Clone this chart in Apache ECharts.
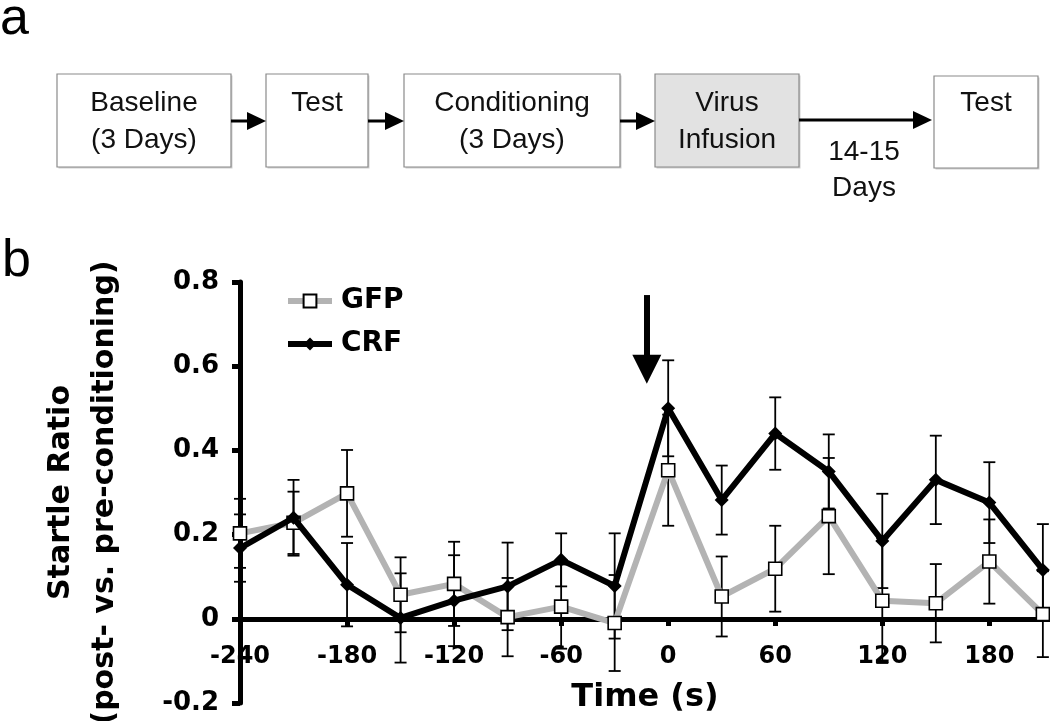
<!DOCTYPE html>
<html>
<head>
<meta charset="utf-8">
<script src="https://cdn.jsdelivr.net/npm/echarts@6/dist/echarts.min.js"></script>
<style>
html,body{margin:0;padding:0;background:#fff;}
#chart{width:1050px;height:721px;}
</style>
</head>
<body>
<div id="chart"></div>
<script>
// ---- data ----
const times = [-240,-210,-180,-150,-120,-90,-60,-30,0,30,60,90,120,150,180,210];
const gfpMean = [0.203,0.228,0.298,0.057,0.083,0.004,0.029,-0.010,0.353,0.053,0.119,0.244,0.043,0.037,0.136,0.011];
const gfpErr  = [0.082,0.074,0.103,0.089,0.100,0.093,0.100,0.114,0.132,0.095,0.102,0.138,0.148,0.093,0.100,0.102];
const crfMean = [0.168,0.240,0.081,0.002,0.043,0.077,0.140,0.078,0.500,0.282,0.440,0.350,0.185,0.330,0.276,0.116];
const crfErr  = [0.080,0.090,0.099,0.106,0.108,0.104,0.063,0.125,0.114,0.082,0.086,0.088,0.112,0.105,0.096,0.109];
const xLabelTicks = [-240,-180,-120,-60,0,60,120,180];
const xMarkTicks = [-180,-120,-60,0,60,120,180];
const seriesNames = ['GFP','CRF'];
const arrowTime = -12;
const arrowFrom = 0.769;
const arrowTo = 0.593;

// panel a content
const steps = [
  {lines:['Baseline','(3 Days)'], fill:'#ffffff'},
  {lines:['Test'], fill:'#ffffff'},
  {lines:['Conditioning','(3 Days)'], fill:'#ffffff'},
  {lines:['Virus','Infusion'], fill:'#e2e2e2'},
  {lines:['Test'], fill:'#ffffff'}
];
const gapLabel = ['14-15','Days'];

// ---- layout for panel a (positions only) ----
const boxGeom = [
  {x:57, y:74, w:174, h:93},
  {x:266, y:74, w:102, h:93},
  {x:404, y:74, w:216, h:93},
  {x:655, y:74, w:144, h:93},
  {x:934, y:76, w:104, h:92}
];
const PA_FONT = '28px "Liberation Sans", Arial, sans-serif';
const graphics = [];
graphics.push({type:'text', left:0, top:-6, style:{text:'a', font:'52px "Liberation Sans", Arial, sans-serif', fill:'#000'}});
graphics.push({type:'text', left:2, top:236, style:{text:'b', font:'52px "Liberation Sans", Arial, sans-serif', fill:'#000'}});
steps.forEach((s,i)=>{
  const g = boxGeom[i];
  graphics.push({type:'rect', shape:{x:g.x+1.5, y:g.y+1.5, width:g.w, height:g.h}, style:{fill:'#cfcfcf', stroke:null}, z:1});
  graphics.push({type:'rect', shape:{x:g.x, y:g.y, width:g.w, height:g.h}, style:{fill:s.fill, stroke:'#8a8a8a', lineWidth:1.2}, z:2});
  s.lines.forEach((t,j)=>{
    graphics.push({type:'text', z:3, style:{text:t, x:g.x+g.w/2, y:103+j*37, font:PA_FONT, fill:'#111', align:'center', verticalAlign:'middle'}});
  });
});
function arrow(x1,x2,y){
  graphics.push({type:'line', z:3, shape:{x1:x1, y1:y, x2:x2-14, y2:y}, style:{stroke:'#000', lineWidth:3}});
  graphics.push({type:'polygon', z:3, shape:{points:[[x2-19,y-9],[x2,y],[x2-19,y+9]]}, style:{fill:'#000'}});
}
arrow(231,266,121);
arrow(368,404,121);
arrow(620,655,121);
arrow(799,932,120);
gapLabel.forEach((t,j)=>{
  graphics.push({type:'text', z:3, style:{text:t, x:864, y:152+j*36, font:PA_FONT, fill:'#111', align:'center', verticalAlign:'middle'}});
});

// ---- chart ----
const gfpData = times.map((t,i)=>[t,gfpMean[i]]);
const crfData = times.map((t,i)=>[t,crfMean[i]]);
const errData = [];
times.forEach((t,i)=>{
  errData.push([t, gfpMean[i]-gfpErr[i], gfpMean[i]+gfpErr[i]]);
  errData.push([t, crfMean[i]-crfErr[i], crfMean[i]+crfErr[i]]);
});

function renderErr(params, api){
  const x = api.value(0), lo = api.value(1), hi = api.value(2);
  const top = api.coord([x, hi]);
  const bot = api.coord([x, lo]);
  const hw = 6;
  const st = {stroke:'#000', lineWidth:1.8};
  return {type:'group', children:[
    {type:'line', shape:{x1:top[0], y1:top[1], x2:bot[0], y2:bot[1]}, style:st},
    {type:'line', shape:{x1:top[0]-hw, y1:top[1], x2:top[0]+hw, y2:top[1]}, style:st},
    {type:'line', shape:{x1:bot[0]-hw, y1:bot[1], x2:bot[0]+hw, y2:bot[1]}, style:st}
  ]};
}

const AX_FONT = {fontFamily:'"DejaVu Sans", Verdana, sans-serif', fontWeight:'bold', color:'#000'};

const option = {
  animation:false,
  backgroundColor:'#fff',
  graphic: graphics,
  grid:{left:240, right:0, top:282, bottom:18, containLabel:false, outerBoundsMode:'none'},
  legend:{
    orient:'vertical', left:285, top:286, padding:0,
    itemWidth:44, itemHeight:16, itemGap:13,
    data:seriesNames,
    lineStyle:{width:6},
    textStyle:Object.assign({fontSize:28, lineHeight:30, padding:[0,0,0,4]}, AX_FONT)
  },
  xAxis:{
    type:'value', min:-240, max:214, position:'bottom', offset:-84,
    name:'Time (s)', nameLocation:'middle', nameGap:63,
    nameTextStyle:Object.assign({fontSize:32}, AX_FONT),
    axisLine:{onZero:false, lineStyle:{color:'#000', width:5}},
    axisTick:{show:true, length:7, customValues:xMarkTicks, lineStyle:{color:'#000', width:5}},
    axisLabel:Object.assign({fontSize:24, margin:26, customValues:xLabelTicks, formatter:v=>String(v)}, AX_FONT),
    splitLine:{show:false}
  },
  yAxis:{
    type:'value', min:-0.2, max:0.8, interval:0.2,
    name:'Startle Ratio\n(post- vs. pre-conditioning)', nameLocation:'middle', nameRotate:90, nameGap:113,
    nameTextStyle:Object.assign({fontSize:30, lineHeight:44, align:'center'}, AX_FONT),
    axisLine:{onZero:false, lineStyle:{color:'#000', width:5}},
    axisTick:{show:true, length:8, lineStyle:{color:'#000', width:5}},
    axisLabel:Object.assign({fontSize:26, margin:21, formatter:v=>(Math.abs(v)<1e-9?'0':v.toFixed(1))}, AX_FONT),
    splitLine:{show:false}
  },
  series:[
    {
      type:'custom', name:'err', z:1, renderItem:renderErr, data:errData,
      encode:{x:0, y:[1,2]}, silent:true
    },
    {
      type:'line', name:seriesNames[0], z:2, data:gfpData,
      symbol:'rect', symbolSize:13,
      lineStyle:{color:'#b3b3b3', width:6},
      itemStyle:{color:'#ffffff', borderColor:'#000', borderWidth:1.6}
    },
    {
      type:'line', name:seriesNames[1], z:3, data:crfData,
      symbol:'diamond', symbolSize:14,
      lineStyle:{color:'#000', width:6},
      itemStyle:{color:'#000'},
      markLine:{
        silent:true, symbol:['none','triangle'], symbolSize:29, label:{show:false},
        lineStyle:{color:'#000', width:6, type:'solid'},
        emphasis:{disabled:true},
        data:[[{coord:[arrowTime, arrowFrom]},{coord:[arrowTime, arrowTo]}]]
      }
    }
  ]
};

const chart = echarts.init(document.getElementById('chart'), null, {renderer:'canvas'});
chart.setOption(option);
</script>
</body>
</html>
